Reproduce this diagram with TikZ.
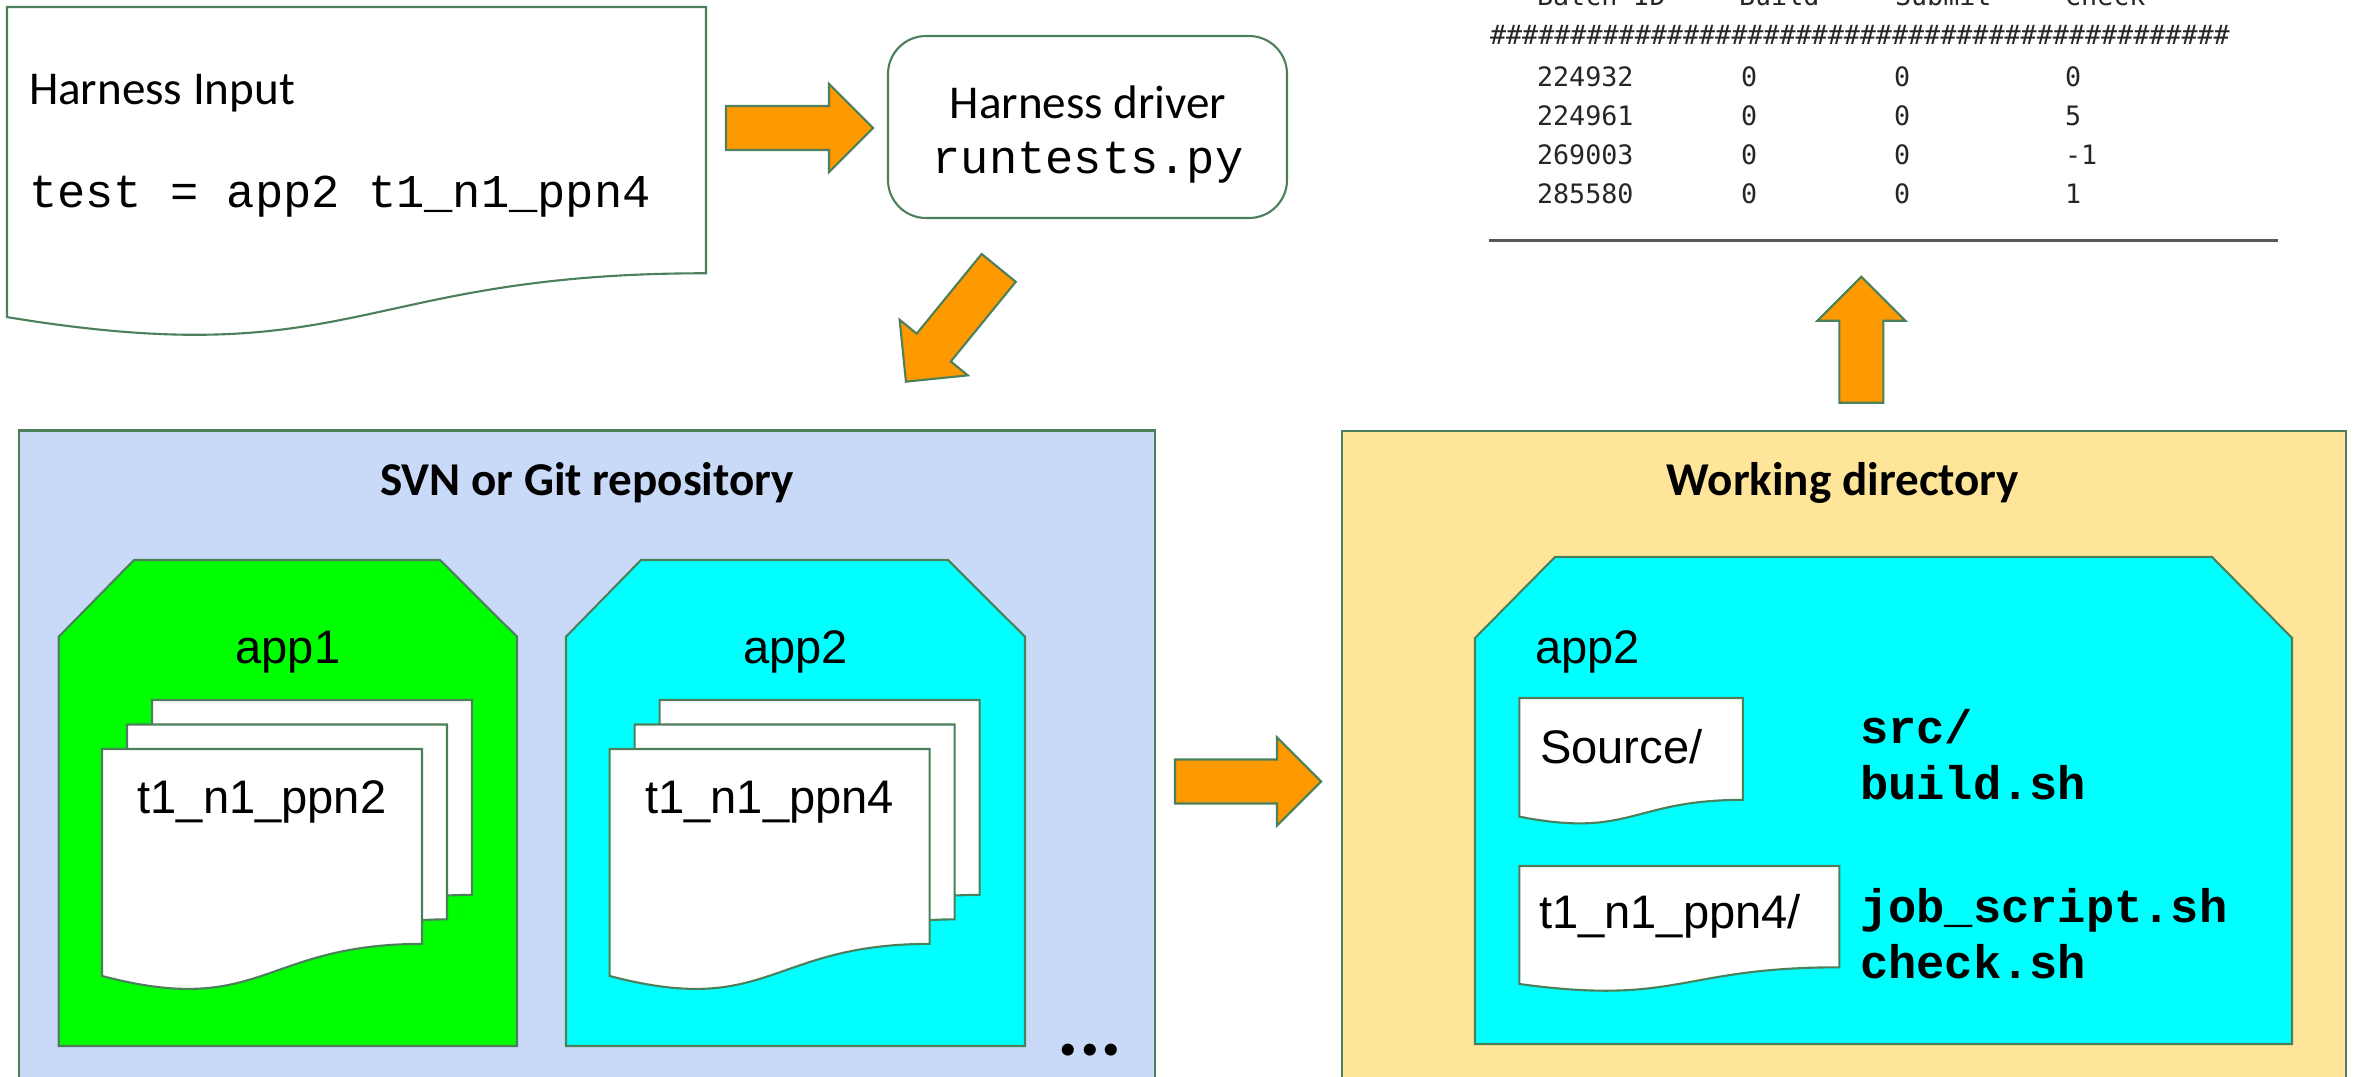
\documentclass[tikz,border=0pt]{standalone}
\usepackage{fontspec}
\setmainfont{Carlito}
\newfontfamily\arialfont{Liberation Sans}
\newfontfamily\courierfont{Liberation Mono}
\newfontfamily\tablefont{DejaVu Sans Mono}
\definecolor{edgegreen}{RGB}{76,128,90}
\definecolor{arroworange}{RGB}{255,153,0}
\definecolor{repoblue}{RGB}{201,218,248}
\definecolor{workyellow}{RGB}{255,229,153}
\definecolor{appgreen}{RGB}{0,255,0}
\definecolor{appcyan}{RGB}{0,255,255}
\begin{document}
\begin{tikzpicture}[x=0.1mm,y=-0.1mm,line width=0.6pt,
	plaintext/.style={inner sep=0pt,font=\fontsize{13.4pt}{16pt}\selectfont},
	titletext/.style={inner sep=0pt,font=\fontsize{13.4pt}{16pt}\selectfont\bfseries},
	monotext/.style={inner sep=0pt,font=\courierfont\fontsize{13.4pt}{16pt}\selectfont},
	boldmono/.style={inner sep=0pt,font=\courierfont\bfseries\fontsize{13.4pt}{16pt}\selectfont},
	arialtext/.style={inner sep=0pt,font=\arialfont\fontsize{13.4pt}{16pt}\selectfont},
	tabletext/.style={inner sep=0pt,text=black!85,font=\tablefont\fontsize{7.6pt}{9pt}\selectfont},
	driverbox/.style={draw=edgegreen,fill=white,rounded corners=3.8mm,minimum width=39.9mm,minimum height=18.2mm},
	folder/.style={draw=edgegreen},
	pics/blockarrow/.style={code={
		\draw[edgegreen,fill=arroworange,line join=miter] (0,-22) -- (#1,-22) -- (#1,-44) -- ({#1+44},0) -- (#1,44) -- (#1,22) -- (0,22) -- cycle;}},
	pics/docpage/.style 2 args={code={
		\draw[edgegreen,fill=white] (0,0) -- (#1,0) -- (#1,{0.802*#2}) .. controls ({0.5*#1},{0.802*#2}) and ({0.5*#1},{1.1075*#2}) .. (0,{0.934*#2}) -- cycle;}}
	]
	\useasboundingbox (0,0) rectangle (2354,1076);

	% harness input and driver
	\pic at (7,7) {docpage={699}{332}};
	\node[plaintext,anchor=base west] (inputtitle) at (28,105) {Harness Input};
	\node[monotext,anchor=base west] (inputtest) at (28,208) {test = app2 t1\_n1\_ppn4};
	\node[driverbox] (driver) at (1087.5,127) {};
	\node[plaintext,anchor=base] (drivername) at (1088,119) {Harness driver};
	\node[monotext,anchor=base] (driverscript) at (1088,174) {runtests.py};
	\pic at (726,128) {blockarrow=103};
	\pic[rotate=230.8] at (998.7,267.9) {blockarrow=102.8};

	% repository
	\draw[draw=edgegreen,fill=repoblue] (19,430.5) rectangle (1155,1100);
	\node[titletext,anchor=base] (repotitle) at (587,495) {SVN or Git repository};
	\draw[folder,fill=appgreen] (58.7,636.7) -- (134,560) -- (440,560) -- (517,636.7) -- (517,1046) -- (58.7,1046) -- cycle;
	\draw[folder,fill=appcyan] (566,636.7) -- (641,560) -- (948,560) -- (1025,636.7) -- (1025,1046) -- (566,1046) -- cycle;
	\node[arialtext,anchor=base] (app1) at (288,663) {app1};
	\node[arialtext,anchor=base] (app2) at (795.5,663) {app2};
	\foreach \dx in {0,507.6} {
		\pic at ({152+\dx},700) {docpage={320}{243}};
		\pic at ({127+\dx},724.5) {docpage={320}{243}};
		\pic at ({102+\dx},749) {docpage={320}{243}};
	}
	\node[arialtext,anchor=base] (test1) at (262,813) {t1\_n1\_ppn2};
	\node[arialtext,anchor=base] (test2) at (769.6,813) {t1\_n1\_ppn4};
	\node[titletext,font=\fontsize{23pt}{24pt}\selectfont\bfseries] (moreapps) at (1090,1050) {...};

	\pic at (1175,781.5) {blockarrow=102};

	% working directory
	\draw[draw=edgegreen,fill=workyellow] (1342,431) rectangle (2346,1100);
	\node[titletext,anchor=base] (worktitle) at (1843,495) {Working directory};
	\draw[folder,fill=appcyan] (1475,638) -- (1555,557) -- (2212,557) -- (2292,638) -- (2292,1044) -- (1475,1044) -- cycle;
	\node[arialtext,anchor=base west] (workapp) at (1534,663) {app2};
	\pic at (1519.4,698) {docpage={223.4}{127}};
	\pic at (1519.3,866) {docpage={320}{126.3}};
	\node[arialtext,anchor=base west] (source) at (1539,763) {Source/};
	\node[arialtext,anchor=base west] (testdir) at (1538,928) {t1\_n1\_ppn4/};
	\node[boldmono,anchor=base west] (srcdir) at (1859,743) {src/};
	\node[boldmono,anchor=base west] (buildsh) at (1859,799.5) {build.sh};
	\node[boldmono,anchor=base west] (jobsh) at (1859,922) {job\_script.sh};
	\node[boldmono,anchor=base west] (checksh) at (1859,978) {check.sh};

	\pic[rotate=90] at (1861.3,402.7) {blockarrow=82};

	% results table
	\node[tabletext,anchor=base west] (hbatch) at (1536,6) {Batch ID};
	\node[tabletext,anchor=base west] (hbuild) at (1738,6) {Build};
	\node[tabletext,anchor=base west] (hsubmit) at (1894,6) {Submit};
	\node[tabletext,anchor=base west] (hcheck) at (2064,6) {Check};
	\node[tabletext,anchor=west] (hashrow) at (1489,35) {\#\#\#\#\#\#\#\#\#\#\#\#\#\#\#\#\#\#\#\#\#\#\#\#\#\#\#\#\#\#\#\#\#\#\#\#\#\#\#\#\#\#\#\#\#\#};
	\foreach \id/\b/\s/\c [count=\r] in {224932/0/0/0,224961/0/0/5,269003/0/0/-1,285580/0/0/1} {
		\node[tabletext,anchor=west] (id\r) at (1536,{76.7+(\r-1)*38.9}) {\id};
		\node[tabletext,anchor=west] (build\r) at (1740,{76.7+(\r-1)*38.9}) {\b};
		\node[tabletext,anchor=west] (submit\r) at (1893,{76.7+(\r-1)*38.9}) {\s};
		\node[tabletext,anchor=west] (check\r) at (2064,{76.7+(\r-1)*38.9}) {\c};
	}
	\draw[black!65,line width=0.25mm] (1489,240.7) -- (2278,240.7);
\end{tikzpicture}
\end{document}
